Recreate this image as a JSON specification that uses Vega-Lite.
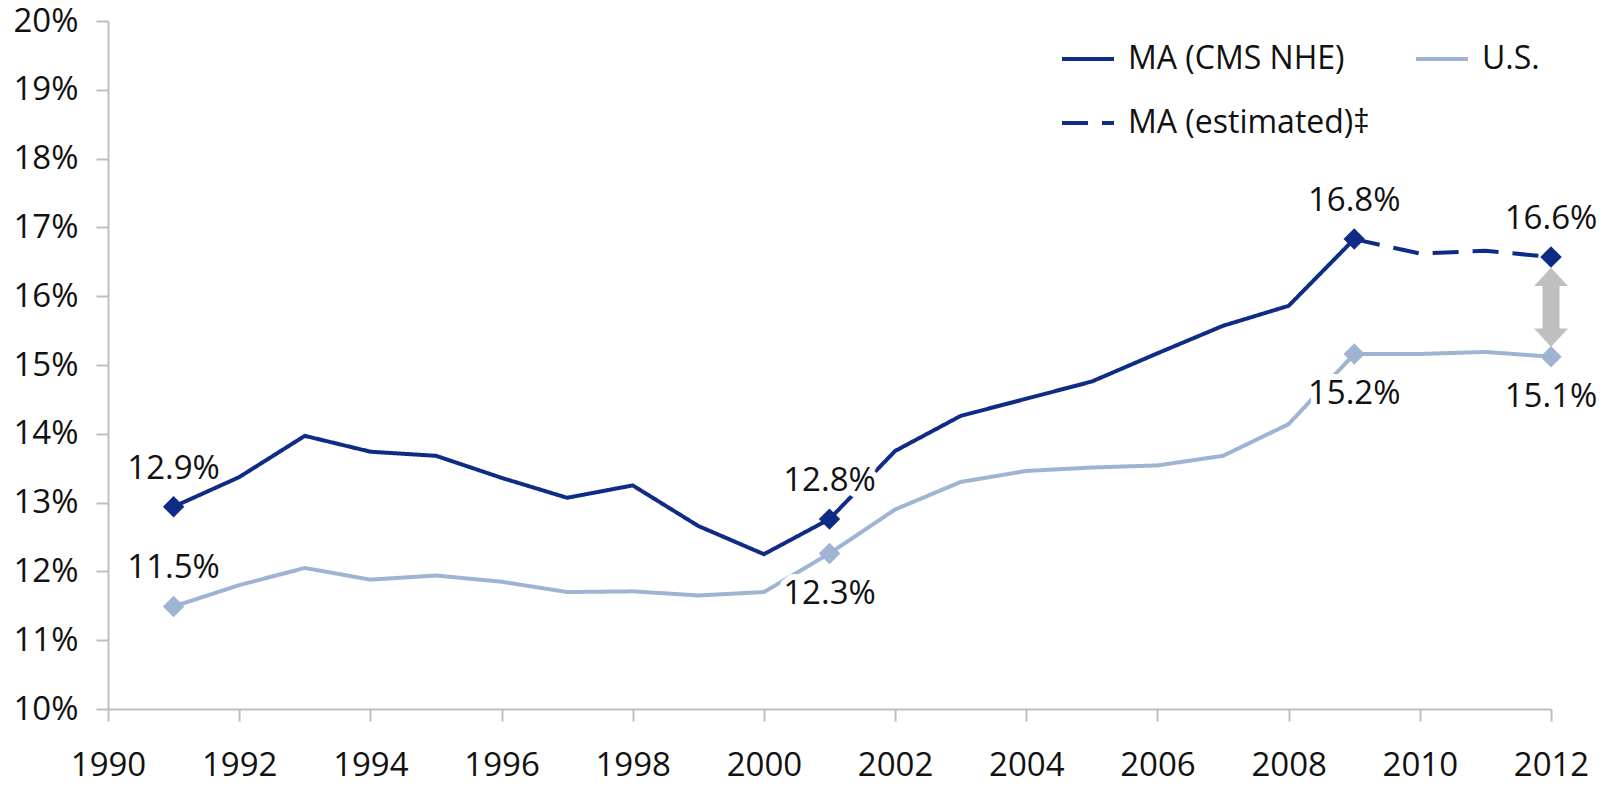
{
  "$schema": "https://vega.github.io/schema/vega-lite/v6.json",
  "autosize": "none",
  "width": 1443,
  "height": 688,
  "padding": {"left": 108, "top": 21, "right": 55, "bottom": 77},
  "background": "white",
  "config": {
    "view": {"stroke": null},
    "font": "Open Sans",
    "axis": {
      "grid": false,
      "domainColor": "#BFBFBF",
      "domainWidth": 2,
      "tickColor": "#BFBFBF",
      "tickWidth": 2,
      "tickSize": 12,
      "labelFont": "Open Sans",
      "labelFontSize": 33,
      "labelColor": "#111111",
      "title": null
    },
    "legend": {
      "orient": "none",
      "legendX": 952,
      "legendY": 10,
      "columns": 2,
      "direction": "horizontal",
      "title": null,
      "labelFont": "Open Sans",
      "labelFontSize": 32,
      "labelColor": "#111111",
      "labelLimit": 0,
      "symbolType": "stroke",
      "symbolSize": 2704,
      "symbolStrokeWidth": 4,
      "labelOffset": 12,
      "rowPadding": 20,
      "columnPadding": 38
    }
  },
  "datasets": {
    "series": [
      {"year": 1991, "value": 12.94, "series": "MA (CMS NHE)"},
      {"year": 1992, "value": 13.37, "series": "MA (CMS NHE)"},
      {"year": 1993, "value": 13.97, "series": "MA (CMS NHE)"},
      {"year": 1994, "value": 13.74, "series": "MA (CMS NHE)"},
      {"year": 1995, "value": 13.68, "series": "MA (CMS NHE)"},
      {"year": 1996, "value": 13.36, "series": "MA (CMS NHE)"},
      {"year": 1997, "value": 13.07, "series": "MA (CMS NHE)"},
      {"year": 1998, "value": 13.25, "series": "MA (CMS NHE)"},
      {"year": 1999, "value": 12.66, "series": "MA (CMS NHE)"},
      {"year": 2000, "value": 12.25, "series": "MA (CMS NHE)"},
      {"year": 2001, "value": 12.76, "series": "MA (CMS NHE)"},
      {"year": 2002, "value": 13.75, "series": "MA (CMS NHE)"},
      {"year": 2003, "value": 14.26, "series": "MA (CMS NHE)"},
      {"year": 2004, "value": 14.51, "series": "MA (CMS NHE)"},
      {"year": 2005, "value": 14.76, "series": "MA (CMS NHE)"},
      {"year": 2006, "value": 15.17, "series": "MA (CMS NHE)"},
      {"year": 2007, "value": 15.57, "series": "MA (CMS NHE)"},
      {"year": 2008, "value": 15.86, "series": "MA (CMS NHE)"},
      {"year": 2009, "value": 16.83, "series": "MA (CMS NHE)"},
      {"year": 1991, "value": 11.49, "series": "U.S."},
      {"year": 1992, "value": 11.80, "series": "U.S."},
      {"year": 1993, "value": 12.05, "series": "U.S."},
      {"year": 1994, "value": 11.88, "series": "U.S."},
      {"year": 1995, "value": 11.94, "series": "U.S."},
      {"year": 1996, "value": 11.85, "series": "U.S."},
      {"year": 1997, "value": 11.70, "series": "U.S."},
      {"year": 1998, "value": 11.71, "series": "U.S."},
      {"year": 1999, "value": 11.65, "series": "U.S."},
      {"year": 2000, "value": 11.70, "series": "U.S."},
      {"year": 2001, "value": 12.26, "series": "U.S."},
      {"year": 2002, "value": 12.90, "series": "U.S."},
      {"year": 2003, "value": 13.30, "series": "U.S."},
      {"year": 2004, "value": 13.46, "series": "U.S."},
      {"year": 2005, "value": 13.51, "series": "U.S."},
      {"year": 2006, "value": 13.54, "series": "U.S."},
      {"year": 2007, "value": 13.68, "series": "U.S."},
      {"year": 2008, "value": 14.14, "series": "U.S."},
      {"year": 2009, "value": 15.16, "series": "U.S."},
      {"year": 2010, "value": 15.16, "series": "U.S."},
      {"year": 2011, "value": 15.19, "series": "U.S."},
      {"year": 2012, "value": 15.12, "series": "U.S."},
      {"year": 2009, "value": 16.83, "series": "MA (estimated)‡"},
      {"year": 2010, "value": 16.62, "series": "MA (estimated)‡"},
      {"year": 2011, "value": 16.66, "series": "MA (estimated)‡"},
      {"year": 2012, "value": 16.57, "series": "MA (estimated)‡"}
    ],
    "points": [
      {"year": 1991, "value": 12.94, "group": "MA", "label": "12.9%", "placement": "above"},
      {"year": 2001, "value": 12.76, "group": "MA", "label": "12.8%", "placement": "above"},
      {"year": 2009, "value": 16.83, "group": "MA", "label": "16.8%", "placement": "above"},
      {"year": 2012, "value": 16.57, "group": "MA", "label": "16.6%", "placement": "above"},
      {"year": 1991, "value": 11.49, "group": "US", "label": "11.5%", "placement": "above"},
      {"year": 2001, "value": 12.26, "group": "US", "label": "12.3%", "placement": "below"},
      {"year": 2009, "value": 15.16, "group": "US", "label": "15.2%", "placement": "below"},
      {"year": 2012, "value": 15.12, "group": "US", "label": "15.1%", "placement": "below"}
    ],
    "arrow": [
      {"year": 2012, "value": 15.84}
    ]
  },
  "encoding": {
    "x": {
      "field": "year",
      "type": "quantitative",
      "scale": {"domain": [1990, 2012], "nice": false, "zero": false},
      "axis": {
        "values": [1990, 1992, 1994, 1996, 1998, 2000, 2002, 2004, 2006, 2008, 2010, 2012],
        "format": "d",
        "labelPadding": 28,
        "labelFlush": false
      }
    },
    "y": {
      "field": "value",
      "type": "quantitative",
      "scale": {"domain": [10, 20], "nice": false, "zero": false},
      "axis": {
        "values": [10, 11, 12, 13, 14, 15, 16, 17, 18, 19, 20],
        "labelExpr": "datum.value + '%'",
        "labelPadding": 18
      }
    }
  },
  "layer": [
    {
      "data": {"name": "series"},
      "mark": {"type": "line", "strokeWidth": 4, "strokeJoin": "miter"},
      "encoding": {
        "color": {
          "field": "series",
          "type": "nominal",
          "sort": ["MA (CMS NHE)", "U.S.", "MA (estimated)‡"],
          "scale": {
            "domain": ["MA (CMS NHE)", "U.S.", "MA (estimated)‡"],
            "range": ["#0E2C86", "#9FB3D3", "#0E2C86"]
          }
        },
        "strokeDash": {
          "field": "series",
          "type": "nominal",
          "sort": ["MA (CMS NHE)", "U.S.", "MA (estimated)‡"],
          "scale": {
            "domain": ["MA (CMS NHE)", "U.S.", "MA (estimated)‡"],
            "range": [[1, 0], [1, 0], [26, 14]]
          }
        }
      }
    },
    {
      "data": {"name": "arrow"},
      "mark": {
        "type": "point",
        "filled": true,
        "fill": "#BFBFBF",
        "stroke": null,
        "opacity": 1,
        "size": 6241,
        "shape": "M0,-1L0.43,-0.54L0.215,-0.54L0.215,0.54L0.43,0.54L0,1L-0.43,0.54L-0.215,0.54L-0.215,-0.54L-0.43,-0.54Z"
      },
      "encoding": {}
    },
    {
      "data": {"name": "points"},
      "transform": [{"filter": "datum.placement == 'above'"}],
      "mark": {"type": "text", "font": "Open Sans", "fontSize": 33, "baseline": "middle", "align": "center", "dy": -38, "stroke": "white", "strokeWidth": 12, "strokeJoin": "round", "fill": "white"},
      "encoding": {"text": {"field": "label"}}
    },
    {
      "data": {"name": "points"},
      "transform": [{"filter": "datum.placement == 'below'"}],
      "mark": {"type": "text", "font": "Open Sans", "fontSize": 33, "baseline": "middle", "align": "center", "dy": 40, "stroke": "white", "strokeWidth": 12, "strokeJoin": "round", "fill": "white"},
      "encoding": {"text": {"field": "label"}}
    },
    {
      "data": {"name": "points"},
      "transform": [{"filter": "datum.group == 'MA'"}],
      "mark": {"type": "point", "shape": "diamond", "filled": true, "size": 460, "color": "#0E2C86", "opacity": 1},
      "encoding": {}
    },
    {
      "data": {"name": "points"},
      "transform": [{"filter": "datum.group == 'US'"}],
      "mark": {"type": "point", "shape": "diamond", "filled": true, "size": 460, "color": "#9FB3D3", "opacity": 1},
      "encoding": {}
    },
    {
      "data": {"name": "points"},
      "transform": [{"filter": "datum.placement == 'above'"}],
      "mark": {"type": "text", "font": "Open Sans", "fontSize": 33, "baseline": "middle", "align": "center", "dy": -38, "color": "#111111"},
      "encoding": {"text": {"field": "label"}}
    },
    {
      "data": {"name": "points"},
      "transform": [{"filter": "datum.placement == 'below'"}],
      "mark": {"type": "text", "font": "Open Sans", "fontSize": 33, "baseline": "middle", "align": "center", "dy": 40, "color": "#111111"},
      "encoding": {"text": {"field": "label"}}
    }
  ]
}
